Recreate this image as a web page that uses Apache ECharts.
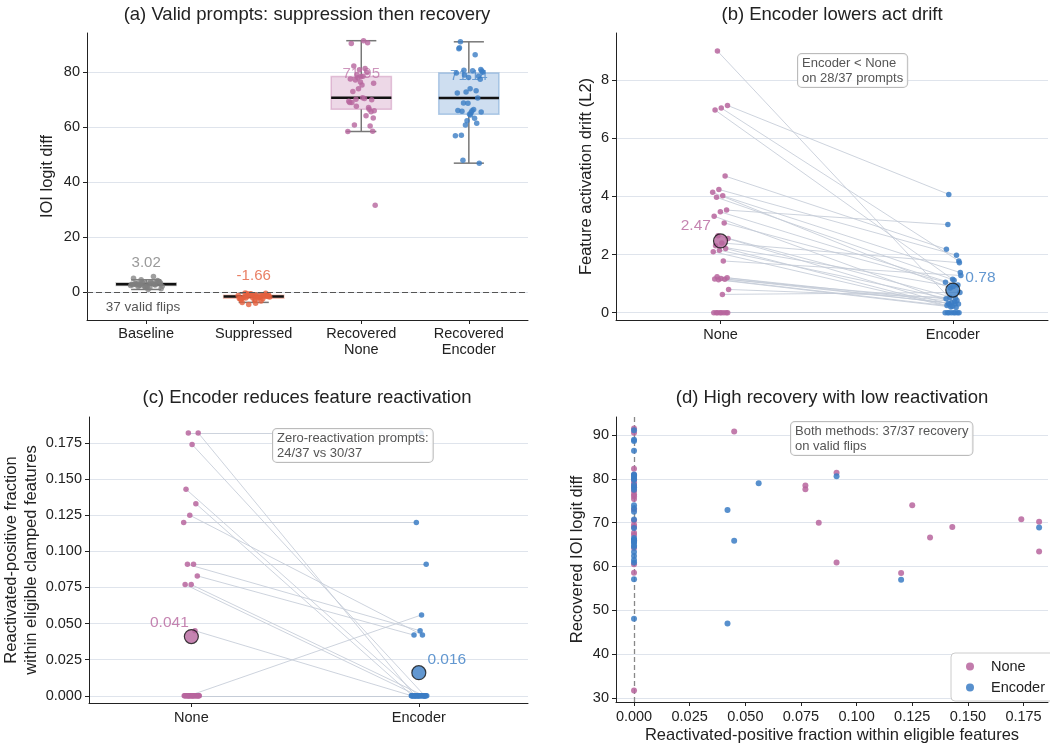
<!DOCTYPE html>
<html>
<head>
<meta charset="utf-8">
<script src="https://cdn.jsdelivr.net/npm/echarts@6/dist/echarts.min.js"></script>
<style>html,body{margin:0;background:#fff}#chart{width:1050px;height:746px}</style>
</head>
<body>
<div id="chart"></div>
<script>
// ---- (a) IOI logit diff per prompt, by stage ----
const baseline = [3.0, 3.1, 2.9, 3.3, 2.7, 3.5, 2.5, 3.8, 2.2, 4.1, 1.9, 5.2, 5.8, 4.6, 1.4, 3.2, 2.8, 3.6, 2.4,
  3.0, 3.4, 2.6, 3.9, 2.1, 3.1, 2.9, 3.7, 2.3, 1.7, 3.3, 4.4, 2.0, 2.8, 3.2, 2.7, 3.5, 1.1];
const suppressed = [-1.4, -1.2, -0.8, -1.9, -2.3, -0.5, -1.1, -1.6, -2.0, -0.3, -1.3, -2.6, -3.1, -4.4, -0.9, -1.5,
  -1.7, -1.0, -0.6, -2.2, -1.8, -0.4, -1.2, -2.9, -3.6, -1.4, -0.7, -1.6, -2.1, -0.2, -1.3, -1.9, -2.4, -1.1, -0.8, -1.5, -3.9];
// recovered logit diff, same prompt order as the fraction arrays below
const recNone = [70.2, 63.4, 70.8, 69.0, 66.6, 74.0, 58.5, 81.4, 60.9, 70.0, 78.5, 77.6, 90.8,
  79.2, 66.0, 91.5, 73.0, 60.5, 80.9, 69.5, 64.2, 77.2, 58.6, 75.4, 90.5, 67.2, 78.0, 31.7, 70.5, 82.3,
  65.7, 76.5, 69.0, 79.9, 67.7, 76.0, 78.6];
const recEnc = [68.9, 81.0, 74.0, 88.9, 61.5, 72.9, 57.0, 80.6, 65.9, 47.0, 78.1, 66.1, 86.4, 79.0,
  80.5, 65.4, 91.1, 70.7, 62.4, 79.8, 66.5, 48.1, 77.5, 64.8, 88.6, 73.3, 60.9, 80.0, 66.0, 57.1, 78.6,
  68.8, 72.5, 63.3, 80.8, 65.6, 64.5];
const stageNames = ['Baseline', 'Suppressed', 'Recovered\nNone', 'Recovered\nEncoder'];
const stageMeans = [3.02, -1.66, 71.95, 71.14];

// ---- (b) feature activation drift ----
const driftNone = [9.0, 7.13, 7.04, 6.97, 4.70, 4.24, 4.14, 4.02, 3.97, 3.53, 3.47, 3.32, 3.09, 2.65, 2.55,
  2.40, 2.30, 2.21, 2.15, 2.10, 1.78, 1.24, 1.20, 1.18, 1.16, 1.15, 1.13, 0.80, 0.63, 0, 0, 0, 0, 0, 0, 0, 0];
const driftEnc = [0.30, 4.07, 1.78, 1.15, 2.18, 1.98, 0.85, 1.38, 1.12, 3.03, 0.95, 0.35, 1.05, 0.50, 0.28,
  1.72, 0.90, 0.25, 0.42, 0.20, 1.28, 0.38, 0.33, 0.30, 0.22, 0.48, 0.18, 0.52, 0.70, 0, 0, 0, 0, 0, 0, 0, 0];
const driftMeans = [2.47, 0.78];

// ---- (c)/(d) reactivated-positive fraction ----
const fracNone = [0.182, 0.182, 0.174, 0.143, 0.133, 0.125, 0.120, 0.091, 0.091, 0.083, 0.077, 0.077, 0.045,
  0, 0, 0, 0, 0, 0, 0, 0, 0, 0, 0, 0, 0, 0, 0, 0, 0, 0, 0, 0, 0, 0, 0, 0];
const fracEnc = [0.182, 0, 0, 0, 0, 0.042, 0.120, 0.091, 0.045, 0.042, 0, 0, 0, 0.056,
  0, 0, 0, 0, 0, 0, 0, 0, 0, 0, 0, 0, 0, 0, 0, 0, 0, 0, 0, 0, 0, 0, 0];
const fracMeans = [0.041, 0.016];

const PINK = '#b7659e', BLUE = '#3b7dc4', RED = '#e4603e', GRAY = '#7f7f7f';
const TXT = '#222', GRID = '#dfe4ec', FONT = 'Liberation Sans';

// even spread for strip-plot jitter (position only)
const jit = i => ((i * 0.618034 + 0.31) % 1) - 0.5;

function quant(sorted, q) {
  const p = (sorted.length - 1) * q, lo = Math.floor(p), hi = Math.ceil(p);
  return sorted[lo] + (sorted[hi] - sorted[lo]) * (p - lo);
}
function boxStats(vals, i) {
  const s = vals.slice().sort((a, b) => a - b);
  const q1 = quant(s, 0.25), md = quant(s, 0.5), q3 = quant(s, 0.75), r = 1.5 * (q3 - q1);
  const lo = s.find(v => v >= q1 - r), hi = s.filter(v => v <= q3 + r).pop();
  return [i, lo, q1, md, q3, hi];
}
const stageVals = [baseline, suppressed, recNone, recEnc];
const stageCols = [GRAY, RED, PINK, BLUE];

function renderBox(params, api) {
  const x = api.value(0);
  const c = k => api.coord([x, api.value(k)]);
  const lo = c(1), q1 = c(2), md = c(3), q3 = c(4), hi = c(5);
  const half = api.size([0.28, 0])[0], cap = half / 2, cx = lo[0];
  const col = stageCols[params.dataIndex];
  const wk = {stroke: '#777', lineWidth: 1.5};
  return {type: 'group', children: [
    {type: 'line', shape: {x1: cx, y1: lo[1], x2: cx, y2: q1[1]}, style: wk},
    {type: 'line', shape: {x1: cx, y1: q3[1], x2: cx, y2: hi[1]}, style: wk},
    {type: 'line', shape: {x1: cx - cap, y1: lo[1], x2: cx + cap, y2: lo[1]}, style: wk},
    {type: 'line', shape: {x1: cx - cap, y1: hi[1], x2: cx + cap, y2: hi[1]}, style: wk},
    {type: 'rect', shape: {x: cx - half, y: q3[1], width: 2 * half, height: Math.max(q1[1] - q3[1], 1)},
      style: {fill: echarts.color.modifyAlpha(col, 0.25), stroke: echarts.color.modifyAlpha(col, 0.35), lineWidth: 1.5}},
    {type: 'line', shape: {x1: cx - half, y1: md[1], x2: cx + half, y2: md[1]}, style: {stroke: '#111', lineWidth: 2.5}}
  ]};
}

const axLine = {show: true, onZero: false, lineStyle: {color: TXT, width: 1}};
function vAxis(grid, min, max, ticks, fmt, extra) {
  return Object.assign({
    gridIndex: grid, type: 'value', min: min, max: max,
    axisLine: axLine,
    axisTick: {show: true, customValues: ticks, length: 4, lineStyle: {color: TXT}},
    axisLabel: {customValues: ticks, formatter: fmt, fontSize: 14.5, color: TXT, fontFamily: FONT, margin: 7},
    splitLine: {show: false},
    nameLocation: 'middle', nameTextStyle: {fontSize: 16.5, color: TXT, fontFamily: FONT, lineHeight: 20}
  }, extra || {});
}
const ySplit = {splitLine: {show: true, lineStyle: {color: GRID, width: 1}}};

const yT0 = [0, 20, 40, 60, 80], yT1 = [0, 2, 4, 6, 8];
const yT2 = [0, 0.025, 0.05, 0.075, 0.1, 0.125, 0.15, 0.175], yT3 = [30, 40, 50, 60, 70, 80, 90];

const series = [];
// (a)
series.push({type: 'custom', xAxisIndex: 0, yAxisIndex: 0, renderItem: renderBox, z: 1,
  data: stageVals.map((v, i) => boxStats(v, i))});
stageVals.forEach((vals, k) => {
  series.push({type: 'scatter', name: 'stage' + k, xAxisIndex: 0, yAxisIndex: 0, symbolSize: 5.5, z: 3,
    itemStyle: {color: stageCols[k], opacity: k === 0 ? 0.75 : 0.8},
    data: vals.map((v, i) => [k + jit(i) * (k < 2 ? 0.3 : 0.26), v]),
    markLine: k === 0 ? {silent: true, symbol: ['none', 'none'], label: {show: false},
      lineStyle: {type: [6, 3], color: '#555', width: 1.2}, data: [{yAxis: 0}]} : undefined});
});
series.push({type: 'scatter', xAxisIndex: 0, yAxisIndex: 0, symbolSize: 1, z: 2,
  itemStyle: {color: 'transparent'},
  data: stageMeans.map((m, i) => ({value: [i, m],
    label: {color: echarts.color.modifyAlpha(stageCols[i], i < 2 ? 1 : 0.85)}})),
  label: {show: true, position: 'top', distance: 13, fontSize: 15, fontFamily: FONT,
    formatter: p => p.value[1].toFixed(2)}});

// paired panels (b) and (c)
function paired(ax, noneV, encV, means, digits, offN, offE) {
  series.push({type: 'lines', coordinateSystem: 'cartesian2d', xAxisIndex: ax, yAxisIndex: ax, silent: true, z: 1,
    lineStyle: {color: '#c4cbd7', width: 1, opacity: 0.85},
    data: noneV.map((v, i) => ({coords: [[jit(i) * 0.07, v], [1 + jit(i + 7) * 0.07, encV[i]]]}))});
  series.push({type: 'scatter', xAxisIndex: ax, yAxisIndex: ax, symbolSize: 5.5, z: 2,
    itemStyle: {color: PINK, opacity: 0.85}, data: noneV.map((v, i) => [jit(i) * 0.07, v])});
  series.push({type: 'scatter', xAxisIndex: ax, yAxisIndex: ax, symbolSize: 5.5, z: 2,
    itemStyle: {color: BLUE, opacity: 0.85}, data: encV.map((v, i) => [1 + jit(i + 7) * 0.07, v])});
  series.push({type: 'scatter', xAxisIndex: ax, yAxisIndex: ax, symbolSize: 14, z: 4,
    label: {show: true, fontSize: 15.5, fontFamily: FONT, distance: 0, formatter: p => p.value[1].toFixed(digits)},
    data: [
      {value: [0, means[0]], itemStyle: {color: PINK, borderColor: '#111', borderWidth: 1.2},
        label: {position: 'left', offset: offN, color: PINK}},
      {value: [1, means[1]], itemStyle: {color: BLUE, borderColor: '#111', borderWidth: 1.2},
        label: {position: 'right', offset: offE, color: BLUE}}
    ]});
}
paired(1, driftNone, driftEnc, driftMeans, 2, [-2, -15], [5, -12]);
paired(2, fracNone, fracEnc, fracMeans, 3, [5, -14], [1, -13]);

// (d)
series.push({type: 'scatter', name: 'None', xAxisIndex: 3, yAxisIndex: 3, symbolSize: 6, z: 2,
  itemStyle: {color: PINK, opacity: 0.85}, data: fracNone.map((f, i) => [f, recNone[i]]),
  markLine: {silent: true, symbol: ['none', 'none'], label: {show: false}, z: 1,
    lineStyle: {type: [5, 3], color: '#888', width: 1.3}, data: [{xAxis: 0}]}});
series.push({type: 'scatter', name: 'Encoder', xAxisIndex: 3, yAxisIndex: 3, symbolSize: 6, z: 3,
  itemStyle: {color: BLUE, opacity: 0.85}, data: fracEnc.map((f, i) => [f, recEnc[i]])});

function title(x, y, t) {
  return {type: 'text', x: x, y: y, z: 10,
    style: {text: t, font: '18.5px "Liberation Sans"', fill: TXT, align: 'center', verticalAlign: 'middle'}};
}
function note(x, y, t) {
  return {type: 'text', x: x, y: y, z: 10,
    style: {text: t, font: '13px "Liberation Sans"', fill: '#555', lineHeight: 15, padding: [2, 4, 1, 4],
      backgroundColor: 'rgba(255,255,255,0.85)', borderColor: '#bbb', borderWidth: 1, borderRadius: 4}};
}

const option = {
  animation: false,
  backgroundColor: '#fff',
  textStyle: {fontFamily: FONT},
  grid: [
    {left: 87, top: 33, width: 441, height: 287},
    {left: 616, top: 33, width: 432, height: 287},
    {left: 86, top: 417, width: 442, height: 286},
    {left: 616, top: 417, width: 432, height: 286}
  ],
  xAxis: [
    vAxis(0, -0.55, 3.55, [0, 1, 2, 3], v => stageNames[Math.round(v)], {axisLabel: {customValues: [0, 1, 2, 3],
      formatter: v => stageNames[Math.round(v)], fontSize: 14.5, color: TXT, fontFamily: FONT, margin: 6, lineHeight: 16}}),
    vAxis(1, -0.45, 1.41, [0, 1], v => (v === 0 ? 'None' : 'Encoder')),
    vAxis(2, -0.45, 1.48, [0, 1], v => (v === 0 ? 'None' : 'Encoder')),
    vAxis(3, -0.0081, 0.186, yT2, v => v.toFixed(3), {name: 'Reactivated-positive fraction within eligible features', nameGap: 23})
  ],
  yAxis: [
    vAxis(0, -10, 94.3, yT0, v => String(v), Object.assign({name: 'IOI logit diff', nameGap: 30}, ySplit)),
    vAxis(1, -0.25, 9.62, yT1, v => String(v), Object.assign({name: 'Feature activation drift (L2)', nameGap: 20}, ySplit)),
    vAxis(2, -0.005, 0.193, yT2, v => v.toFixed(3),
      Object.assign({name: 'Reactivated-positive fraction\nwithin eligible clamped features', nameGap: 48}, ySplit)),
    vAxis(3, 29.1, 94.1, yT3, v => String(v), Object.assign({name: 'Recovered IOI logit diff', nameGap: 29}, ySplit))
  ],
  legend: {data: ['None', 'Encoder'], orient: 'vertical', left: 951, top: 653, icon: 'circle',
    itemWidth: 8, itemHeight: 8, itemGap: 6, padding: [6, 10, 6, 15],
    borderColor: '#ccc', borderWidth: 1, borderRadius: 4, backgroundColor: '#fff',
    textStyle: {fontSize: 14.5, color: TXT, fontFamily: FONT, padding: [0, 0, 0, 12]}},
  graphic: [
    title(307, 15, '(a) Valid prompts: suppression then recovery'),
    title(832, 15, '(b) Encoder lowers act drift'),
    title(307, 398, '(c) Encoder reduces feature reactivation'),
    title(832, 398, '(d) High recovery with low reactivation'),
    note(798, 54, 'Encoder < None\non 28/37 prompts'),
    note(273, 429, 'Zero-reactivation prompts:\n24/37 vs 30/37'),
    note(791, 422, 'Both methods: 37/37 recovery\non valid flips'),
    {type: 'text', x: 143, y: 307, z: 10, style: {text: '37 valid flips', font: '13.5px "Liberation Sans"',
      fill: '#555', align: 'center', verticalAlign: 'middle'}}
  ],
  series: series
};

const chart = echarts.init(document.getElementById('chart'));
chart.setOption(option);
</script>
</body>
</html>
